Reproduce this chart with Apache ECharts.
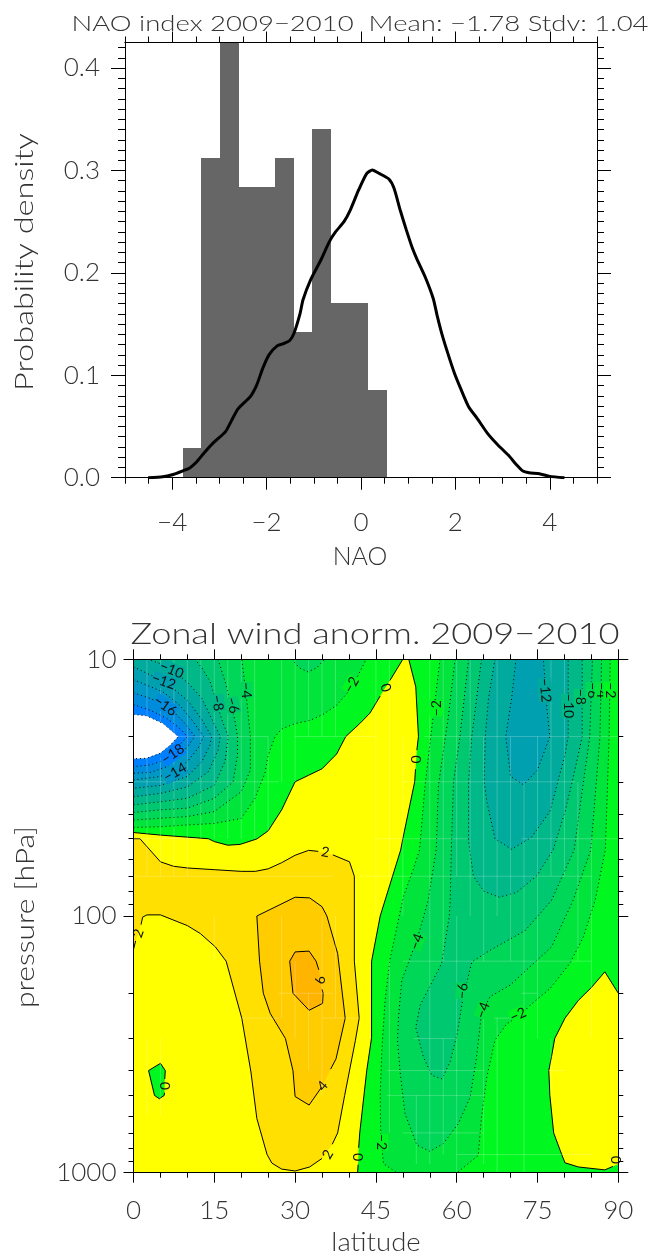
<!DOCTYPE html>
<html><head><meta charset="utf-8"><style>html,body{margin:0;padding:0;background:#fff}#c{width:652px;height:1255px}</style>
<script src="https://cdn.jsdelivr.net/npm/echarts@6/dist/echarts.min.js"></script></head><body><div id="c"></div>
<script>
// ---------- NAO histogram ----------
const histEdges=[-3.775,-3.396,-2.988,-2.583,-2.204,-1.825,-1.418,-1.039,-0.633,-0.233,0.151,0.557];
const histDensity=[0.029,0.312,0.4286,0.2839,0.2839,0.312,0.1423,0.3405,0.1709,0.1709,0.0856];
const kde=[[-4.51,0],[-4.2,.001],[-4.02,.0026],[-3.76,.007],[-3.62,.0098],[-3.49,.015],[-3.32,.0244],[-3.14,.0335],[-2.87,.045],[-2.74,.056],[-2.61,.067],[-2.35,.079],[-2.21,.0905],[-2.08,.107],[-1.95,.12],[-1.77,.129],[-1.64,.131],[-1.51,.134],[-1.42,.141],[-1.29,.1605],[-1.23,.1735],[-1.07,.193],[-.85,.2126],[-.67,.2305],[-.54,.24],[-.36,.25],[-.23,.261],[-.05,.281],[.12,.297],[.24,.3005],[.39,.297],[.59,.2917],[.7,.2826],[.83,.2614],[.96,.242],[1.09,.224],[1.18,.214],[1.36,.196],[1.53,.175],[1.62,.157],[1.71,.141],[1.84,.1214],[1.98,.102],[2.11,.0872],[2.28,.0693],[2.46,.058],[2.68,.0433],[2.9,.032],[3.12,.0221],[3.3,.0124],[3.43,.0065],[3.56,.0049],[3.78,.0039],[4,.0013],[4.31,0]];
const naoLabels=[-4,-2,0,2,4];
const densLabels=[0,0.1,0.2,0.3,0.4];
const latLabels=[0,15,30,45,60,75,90];

// ---------- zonal wind contours: [latitude, pressure]; null marks a gap left for a label ----------
const zeroNW=[[0,47.3],[5,48.4],[10,49.3],[13.9,50],[15,51.3],[17.5,53],[19.8,52.6],[22.9,50.1],[25,46.6],[27.5,38.6],[30,30],[32.5,28.3],[35,26.7],[37.7,23.4],[39.4,20],[42,17.8],[43.9,16.2],[45.8,13.9],null,[47.6,12.1],[50,10]];
const zeroEast=[[51.1,10],[52.4,12.8],[52.9,20],[52.6,22.6],null,[52.35,26.8],[52.2,30],[50,50],[49.6,55.3],[45.8,100],[44.2,150],[44.2,298],[43.3,400],[42,700],[41.8,800],null,[41.7,930],[41.6,1000]];
const zeroSE=[[90,200],[87.5,165],[85,190],[82.6,213],[80.1,250],[78.2,300],[77.6,353],[77.1,400],[77.3,500],[78,700],[79.5,850],[80.1,915],[82.6,950],[87.5,975],[89,945]];
const zeroPatch=[[2.8,400],[5,375],[5.9,400],[5.8,432],null,[5.75,488],[5.7,500],[4.8,515],[3.9,500],[2.8,400]];
const plus2=[[0,50],[1.2,50],[5,61.5],[7.4,64],[10,65],[15,66],[20,67],[22.6,67],[25,65.5],[27.5,62],[30,58],[32.5,55.5],[34.3,56],null,[37,57.8],[40.1,61.5],[41,70],[41,150],[41.9,250],[41.2,305],[39.2,500],[37.9,700],[36.9,775],null,[35,880],[32.7,950],[30,985],[27.5,968],[25.7,918],[24.8,850],[22.9,615],[21.8,405],[20.1,250],[17.2,150],[15.2,132],[12.4,117],[10,109],[5,99],[2.5,99],[1.7,101],[1.4,108],null,[0.4,125],[0,135]];
const plus4=[[22.9,100],[30,84.5],[32.7,85],[35,92],[35.9,100],[37.9,140],[39.3,250],[37.6,360],[36.6,395],null,[34.9,465],[32.6,545],[30,505],[29.6,400],[28.2,300],[25.4,240],[24.1,200],[23.4,150],[22.9,100]];
const plus6=[[30,138],[32.6,137],[33.9,150],[34.4,162],null,[35,193],[35.2,200],[35.1,219],[32.6,233],[29.6,200],[29,150],[30,138]];
const minus2NW=[[0,45.2],[5,44.9],[10,44.2],[15,43.6],[20,41.7],[22.5,35],[24.4,27.8],[25,23.6],[26.3,20],[27.5,18.7],[30,17.8],[32.8,17.3],[35.2,16.4],[37.7,15.1],[39.6,13.6],[40.8,12.6],[43.2,10]];
const minus4NW=[[0,42.3],[5,41.6],[10,41],[15,39.2],[20,32.8],[21.7,27],[21.7,20],[21.3,16.5],[20.9,13.6],[20.4,11.2],[20.1,10]];
const minus4Top=[[29.4,10],[30.8,10.8],[32.4,11.2],[34,10.8],[35.5,10]];
const minus6NW=[[0,39.5],[5,38.6],[10,38],[15,34.8],[18.5,30],[19.3,23.6],[19.3,20],[18.8,17.2],[18.2,15.3],[17,12.2],[15.7,10]];
const minus8NW=[[0,36.9],[5,35.9],[10,34.8],[15,31],[17,25],[17.6,20],[16.4,17.2],[15.4,14.6],[14.2,12.2],[12.7,10.8],[11.4,10]];
const minus10NW=[[0,34.3],[5,33.3],[10,31.4],[13.9,27.4],[15.7,22.6],[16.1,20],[14.5,17],[12.7,14.2],[10.2,12.4],[7.7,11.2],[5.5,10.5],[2.8,10]];
const minus12NW=[[0,10.7],[3.1,11.5],[5.8,12.2],[7.4,13],[10.2,14.6],[12.7,17.2],[14.5,20],[14.2,21.6],[12.7,25],[10,28.6],[5,31],[0,31.8]];
const minus14NW=[[0,12],[2.4,12.6],[5.5,13.4],[8.6,15.1],[11.1,17.5],[13,20],[12,22.2],[10,25],[8,27],[5,28.6],[0,29.5]];
const minus16NW=[[0,13.5],[3.1,14.2],[6.5,15.3],[9.6,17.8],[11.4,20],[10,21.9],[8,24.3],[6.2,26.2],[3.1,27.6],[0,27.8]];
const minus18NW=[[0,15],[3.1,15.8],[6.2,17],[8.6,18.6],[10,20],[7.4,22.9],[5,25],[3.1,25.8],[0,26.2]];
const minus20NW=[[0,16.4],[2.4,16.6],[5.5,17.8],[8.3,20],[6.8,21.6],[5,23.2],[2.4,24.3],[0,24.4]];
const minus2E=[[56.9,10],[55.7,16.2],[54.1,31.3],[53.1,55.3],[51.9,66],[50.1,84],[47.6,148],[46.7,213],[46.1,334],[45.8,498],[45.9,704],[46.4,923],[48.9,1000],[60.1,1000],[64,857],[64.6,608],[65.6,424],[67.1,305],[69.3,263],[71.7,245],[73.6,223],[77.3,192],[81,153],[83.5,121],[85.7,87],[87.6,55.3],[88.3,20],[88.5,10]];
const minus4E=[[59.7,10],[58.4,17],[56.6,31],[56.2,55],[54.7,87],[52.6,124],[49.8,178],[49.2,247],[49,305],[49.5,406],[50.4,589],[52.6,780],[55,826],[57.5,771],[60.3,644],[62.5,508],[63.7,354],[64.6,240],[66.2,206],[69.9,186],[77.6,132],[81.6,87],[84.9,55.3],[86.6,20],[86.9,10]];
const minus6E=[[62.2,10],[60.6,20],[59.4,30],[59,55.3],[58.8,87],[58.6,101],[57.2,153],[53.2,223],[52.4,272],[53.8,354],[55.4,418],[57.3,431],[58.8,368],[60.1,287],[61.1,213],[62.8,151],[66.2,136],[72.7,114],[77.6,87],[81.8,55.3],[84.7,20],[85.2,10]];
const minus8E=[[64.6,10],[62.8,20],[62.2,30],[62.2,51],[63.1,70],[65,80],[67.9,84.5],[71.1,81],[74.8,70],[77.9,55.3],[80.1,39.3],[81.6,29.1],[83.3,20],[83.3,10]];
const minus10E=[[67.1,10],[65.9,14.2],[65.3,20],[65.1,30],[65.6,35.9],[67.1,50],[70.2,55],[73.9,49.3],[77.3,39.2],[80.1,23.6],[80.7,20],[80.7,10]];
const minus12E=[[71,10],[70.2,14.2],[69.1,20],[69.6,24.3],[70,28.6],[72.4,30.8],[75,27],[77.3,20],[76.8,16],[76.1,10]];

const levelColor={yellow:'#ffff00',p2:'#ffe000',p4:'#ffcc00',p6:'#ffb400',m0:'#00f820',m2:'#00e43c',m4:'#00d658',m6:'#00c870',m8:'#00b888',m10:'#00aa9c',m12:'#00a0b0',m14:'#0098c4',m16:'#008cdc',m18:'#0080ff',m20:'#ffffff'};

const fullBox=[[0,10],[90,10],[90,1000],[0,1000]];
const contours=[
 {pts:fullBox,fill:'yellow',noLine:true},
 {pts:plus2,fill:'p2'},{pts:plus4,fill:'p4'},{pts:plus6,fill:'p6'},
 {pts:zeroNW,extra:[[0,10]],fill:'m0'},
 {pts:zeroEast,extra:[[90,1000],[90,10]],fill:'m0'},
 {pts:zeroSE,extra:[[90,925]],fill:'yellow'},{pts:zeroPatch,fill:'m0'},
 {pts:minus2NW,extra:[[0,10]],fill:'m2',dot:true},
 {pts:minus2E,fill:'m2',dot:true},
 {pts:minus4NW,extra:[[0,10]],fill:'m4',dot:true},
 {pts:minus4Top,fill:'m4',dot:true},
 {pts:minus4E,fill:'m4',dot:true},
 {pts:minus6NW,extra:[[0,10]],fill:'m6',dot:true},
 {pts:minus6E,fill:'m6',dot:true},
 {pts:minus8NW,extra:[[0,10]],fill:'m8',dot:true},
 {pts:minus8E,fill:'m8',dot:true},
 {pts:minus10NW,extra:[[0,10]],fill:'m10',dot:true},
 {pts:minus10E,fill:'m10',dot:true},
 {pts:minus12NW,fill:'m12',dot:true},
 {pts:minus12E,fill:'m12',dot:true},
 {pts:minus14NW,fill:'m14',dot:true},
 {pts:minus16NW,fill:'m16',dot:true},
 {pts:minus18NW,fill:'m18',dot:true},
 {pts:minus20NW,fill:'m20',dot:true}
];
// faint seams in the shading: [lat0, p0, lat1, p1]
const seams=[
 [2.5,10,2.5,70],[5,10,5,70],[7.5,10,7.5,70],[10,10,10,70],[12.5,10,12.5,50],[15,10,15,50],[17.5,10,17.5,50],[20,10,20,50],[22.5,10,22.5,50],[25,20,25,50],[27.5,10,27.5,30],[30,10,30,30],[32.5,10,32.5,20],[35,10,35,20],[37.5,10,37.5,20],
 [45,10,45,100],[47.5,10,47.5,70],[50,20,50,100],[55,10,55,100],[57.5,10,57.5,150],[60,10,60,70],[62.5,10,62.5,100],[65,20,65,150],[67.5,10,67.5,100],[70,20,70,150],[72.5,30,72.5,1000],[75,20,75,300],[77.5,10,77.5,70],[80,10,80,70],[82.5,30,82.5,150],[85,50,85,300],
 [47.5,150,47.5,700],[52.5,500,52.5,925],[55,100,55,925],[57.5,300,57.5,850],[60,100,60,1000],[65,250,65,925],[67.5,250,67.5,1000],[77.5,300,77.5,500],
 [27.5,100,27.5,250],[30,150,30,300],[32.5,200,32.5,400],[35,100,35,500],[37.5,100,37.5,250],[2.5,300,2.5,600],[5,300,5,600],[15,100,15,150],
 [0,20,25,20],[30,20,45,20],[54,20,90,20],[0,30,27,30],[50,30,82,30],[0,70,37,70],[42,70,85,70],[0,50,12,50],[45,50,62,50],[72,50,90,50],
 [50,150,85,150],[72,200,75,200],[27,200,37,200],[20,250,27,250],[35,250,42,250],[67,250,70,250],[52,300,60,300],[47,400,65,400],[77,400,80,400],[47,500,65,500],[50,700,65,700],[60,850,85,850]
];
// contour labels: lat, pressure, text, rotation (deg, ccw), colour behind (dotted contours only)
const M='\u2212';
const contourLabels=[
 [7.1,11,M+'10',-22,'m10'],[5.6,12.2,M+'12',-20,'m12'],[5.9,15.2,M+'16',-35,'m16'],[7.3,23.4,M+'18',35,'m18'],[7.7,27.6,M+'14',30,'m14'],
 [15.6,14.8,M+'8',-80,'m8'],[18.4,15.1,M+'6',-75,'m6'],[20.9,13.2,M+'4',-85,'m4'],[40.5,12.6,M+'2',60,'m0'],
 [46.8,12.9,'0',-70,null],[52.4,24.5,'0',-90,null],[56.2,15.5,M+'2',90,'m0'],
 [76.4,13.2,M+'12',-85,'m10'],[80.7,15.2,M+'10',-90,'m8'],[83,14,M+'8',-90,'m6'],[85.2,13.2,M+'6',-90,'m4'],[86.9,13.2,M+'4',-90,'m2'],[88.5,13.2,M+'2',-90,'m0'],
 [35.6,56.5,'2',-10,null],[0.9,117,'2',70,null],[34.8,178,'6',90,null],[35.1,459,'4',50,null],[36.1,850,'2',60,null],
 [5.7,459,'0',-90,null],[41.6,870,'0',-90,null],[89.5,890,'0',-90,null],
 [46,760,M+'2',-90,'m0'],[52.6,126,M+'4',70,'m2'],[61.1,196,M+'6',85,'m4'],[64.9,233,M+'4',70,'m2'],[71.4,243,M+'2',25,'m0']
];

// ---------- chart ----------
const FONT='Lato';
const TXT='#333';
const line={onZero:false,lineStyle:{color:'#000',width:1}};
const seq=(a,b,s)=>{const r=[];const n=Math.round((b-a)/s);for(let i=0;i<=n;i++)r.push(+(a+i*s).toFixed(4));return r;};
const fmtNum=v=>(v<0?M:'')+Math.abs(v);
function valAxis(grid,pos,min,max,ticks,len,labels,margin,fmt){
 return {gridIndex:grid,type:'value',position:pos,min,max,z:5,axisLine:line,splitLine:{show:false},
  axisTick:{show:true,customValues:ticks,length:len,lineStyle:{color:'#000',width:1}},
  axisLabel:labels?{show:true,customValues:labels,margin,color:TXT,fontFamily:FONT,fontWeight:300,fontSize:26,formatter:fmt,hideOverlap:false}:{show:false}};
}
function logAxis(pos,labels){
 return {gridIndex:1,type:'log',logBase:10,inverse:true,position:pos,min:10,max:1000,z:5,axisLine:line,splitLine:{show:false},minorSplitLine:{show:false},
  axisTick:{show:true,length:10,lineStyle:{color:'#000',width:1}},minorTick:{show:true,splitNumber:9,length:5,lineStyle:{color:'#000',width:1}},
  axisLabel:labels?{show:true,margin:17,color:TXT,fontFamily:FONT,fontWeight:300,fontSize:26,formatter:v=>String(v)}:{show:false}};
}
const txt=(text,x,y,size,sx,rot)=>({type:'text',x,y,rotation:rot||0,scaleX:sx||1,z:10,style:{text,fill:TXT,font:'300 '+size+'px '+FONT,textAlign:'center',textVerticalAlign:'middle'}});

const chart=echarts.init(document.getElementById('c'),null,{renderer:'canvas'});
chart.setOption({
 animation:false,backgroundColor:'#fff',
 grid:[{left:125,top:42.5,width:472,height:435.2,containLabel:false},{left:133.5,top:659.3,width:484.8,height:513.4}],
 xAxis:[
  valAxis(0,'bottom',-5,5,naoLabels,12,naoLabels,32,fmtNum),
  valAxis(0,'bottom',-5,5,seq(-5,5,.5),6),
  valAxis(0,'top',-5,5,naoLabels,11),
  valAxis(0,'top',-5,5,seq(-5,5,.5),6),
  valAxis(1,'bottom',0,90,latLabels,10,latLabels,25,v=>String(v)),
  valAxis(1,'bottom',0,90,seq(0,90,5),5),
  valAxis(1,'top',0,90,latLabels,10),
  valAxis(1,'top',0,90,seq(0,90,5),5)
 ],
 yAxis:[
  valAxis(0,'left',0,0.425,densLabels,14,densLabels,25,v=>v.toFixed(1)),
  valAxis(0,'left',0,0.425,seq(0,.42,.01),7),
  valAxis(0,'right',0,0.425,densLabels,14),
  valAxis(0,'right',0,0.425,seq(0,.42,.01),7),
  logAxis('left',true),logAxis('right',false)
 ],
 series:[
  {type:'custom',xAxisIndex:0,yAxisIndex:0,clip:true,z:1,silent:true,
   data:histDensity.map((d,i)=>[histEdges[i],d,histEdges[i+1]]),
   renderItem:(p,api)=>{const a=api.coord([api.value(0),api.value(1)]),b=api.coord([api.value(2),0]);
    const x0=Math.round(a[0]),x1=Math.round(b[0]),y0=Math.round(a[1]),y1=Math.round(b[1]);
    return {type:'rect',shape:{x:x0,y:y0,width:x1-x0,height:y1-y0},style:{fill:'#666666',stroke:null}};}},
  {type:'line',xAxisIndex:0,yAxisIndex:0,z:2,data:kde,showSymbol:false,smooth:0.2,lineStyle:{color:'#000',width:3},silent:true},
  {type:'custom',xAxisIndex:4,yAxisIndex:4,clip:true,z:1,silent:true,
   data:contours.map((c,i)=>[c.pts[0][0],c.pts[0][1],i]),
   renderItem:(p,api)=>{const c=contours[api.value(2)];
    const pts=c.pts.filter(Boolean).map(q=>api.coord(q));
    const all=pts.concat((c.extra||[]).map(q=>api.coord(q)));
    const kids=[{type:'polygon',shape:{points:all},style:{fill:levelColor[c.fill],stroke:null}}];
    if(!c.noLine){
     let run=[];const runs=[run];
     c.pts.forEach(q=>{if(q)run.push(api.coord(q));else{run=[];runs.push(run);}});
     runs.forEach(r=>kids.push({type:'polyline',z2:5,shape:{points:r},style:{fill:null,stroke:'#000',lineWidth:1,lineDash:c.dot?[1,3]:null}}));
    }
    return {type:'group',children:kids};}},
  {type:'custom',xAxisIndex:4,yAxisIndex:4,clip:true,z:2,silent:true,
   data:seams.map(s=>s),
   renderItem:(p,api)=>{const a=api.coord([api.value(0),api.value(1)]),b=api.coord([api.value(2),api.value(3)]);
    return {type:'line',shape:{x1:a[0],y1:a[1],x2:b[0],y2:b[1]},style:{stroke:'rgba(255,255,255,0.22)',lineWidth:1}};}},
  {type:'custom',xAxisIndex:4,yAxisIndex:4,z:3,silent:true,
   data:contourLabels.map((l,i)=>[l[0],l[1],i]),
   renderItem:(p,api)=>{const l=contourLabels[api.value(2)];const q=api.coord([l[0],l[1]]);
    const st={text:l[2],fill:'#111',font:'14px '+FONT,textAlign:'center',textVerticalAlign:'middle'};
    if(l[4])st.backgroundColor=levelColor[l[4]];
    return {type:'text',x:q[0],y:q[1],rotation:l[3]*Math.PI/180,style:st};}}
 ],
 graphic:[
  txt('NAO index 2009'+M+'2010  Mean: '+M+'1.78 Stdv: 1.04',360,24,21,1.31),
  txt('Zonal wind anorm. 2009'+M+'2010',375,635,29,1.25),
  txt('NAO',360,557,25,1),
  txt('latitude',376,1243,25,1.1),
  txt('Probability density',25,262,26,1.25,Math.PI/2),
  txt('pressure [hPa]',26,917,25,1.2,Math.PI/2)
 ]
});
</script></body></html>
